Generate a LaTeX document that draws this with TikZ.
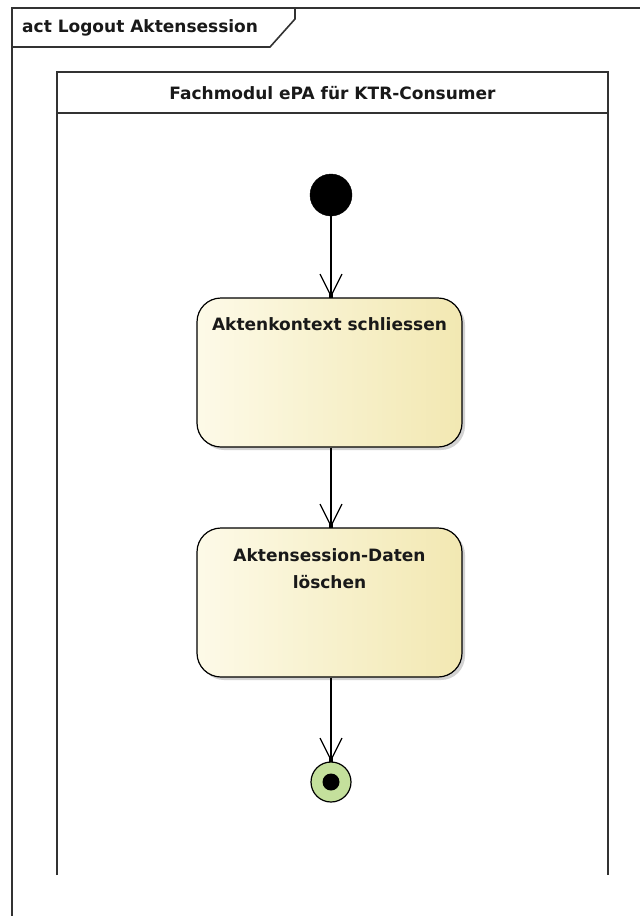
\documentclass[tikz,border=0pt]{standalone}
\usepackage{fontspec}
\setmainfont{DejaVu Sans}
\usetikzlibrary{arrows.meta,shadows}
\definecolor{framec}{RGB}{50,50,50}
\definecolor{boxl}{RGB}{253,250,232}
\definecolor{boxr}{RGB}{242,232,178}
\definecolor{endg}{RGB}{196,224,156}
\tikzset{
  frameline/.style={draw=framec,line width=1.6pt},
  action/.style={draw=black,line width=1.2pt,rounded corners=24pt,
    left color=boxl,right color=boxr,minimum width=265pt,minimum height=149pt,
    inner sep=0pt,
    drop shadow={shadow xshift=3pt,shadow yshift=-3pt,opacity=0.35,fill=gray}},
  lbl/.style={font=\fontsize{17}{27}\selectfont\bfseries,text=black!90,align=center,inner sep=0pt},
  flow/.style={draw=black,line width=1.2pt,-{Straight Barb[length=22pt,width=22pt,line width=1.2pt]}},
}
\begin{document}
\begin{tikzpicture}[x=1pt,y=-1pt]
\useasboundingbox (0,0) rectangle (640,916);
\fill[white] (0,0) rectangle (640,916);
% outer frame
\draw[frameline] (12,916) -- (12,8) -- (640,8);
\draw[frameline] (12,47) -- (270,47) -- (295,19) -- (295,8);
\node[lbl,anchor=west] (title) at (22,28) {act Logout Aktensession};
% partition
\draw[frameline] (57,875) -- (57,72) -- (608,72) -- (608,875);
\draw[frameline] (57,113) -- (608,113);
\node[lbl] (part) at (332.5,93) {Fachmodul ePA für KTR-Consumer};
% nodes
\node[circle,fill=black,draw=black,minimum size=42pt,inner sep=0pt] (start) at (331,195) {};
\node[action] (b1) at (329.5,372.5) {};
\node[lbl,anchor=north] (t1) at ([yshift=-20pt]b1.north) {Aktenkontext schliessen};
\node[action] (b2) at (329.5,602.5) {};
\node[lbl,anchor=north] (t2) at ([yshift=-21pt]b2.north) {Aktensession-Daten\\löschen};
\node[circle,fill=endg,draw=black,line width=1.2pt,minimum size=40pt,inner sep=0pt] (end) at (331,782) {};
\node[circle,fill=black,minimum size=17pt,inner sep=0pt] (endin) at (end.center) {};
% flows
\draw[flow] (start.south) -- (b1.north -| start.south);
\draw[flow] (b1.south -| start.south) -- (b2.north -| start.south);
\draw[flow] (b2.south -| start.south) -- (end.north);
\foreach \n in {b1,b2,end}{
  \fill[black] ([xshift=-2pt,yshift=-1pt]\n.north -| start.south) rectangle ++(4,-4);
}
\end{tikzpicture}
\end{document}
